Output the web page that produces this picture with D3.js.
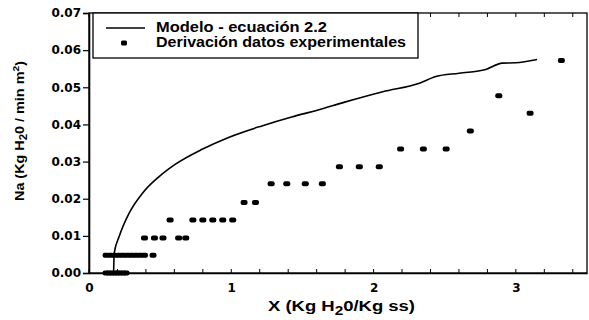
<!DOCTYPE html>
<html><head><meta charset="utf-8">
<script src="https://cdn.jsdelivr.net/npm/d3@7"></script>
<style>body{margin:0;background:#fff}svg{display:block}</style>
</head><body><svg id="c" width="589" height="320"></svg>
<script>
// Model curve (ecuación 2.2)
const modelX = [0.173,0.177,0.212,0.282,0.376,0.491,0.608,0.795,0.981,1.215,1.424,1.610,1.797,2.065,2.322,2.438,2.601,2.788,2.904,2.998,3.149];
const modelY = [0.0,0.0053,0.0098,0.0161,0.0215,0.0259,0.0293,0.0333,0.0365,0.0396,0.0420,0.0439,0.0460,0.0488,0.0511,0.0529,0.0538,0.0548,0.0565,0.0566,0.0575];
// Experimental data
const expX = [0.12,0.14,0.16,0.18,0.20,0.22,0.24,0.26,
  0.12,0.15,0.18,0.21,0.24,0.27,0.30,0.33,0.36,0.39,0.45,
  0.39,0.46,0.52,0.63,0.68,
  0.57,0.73,0.80,0.87,0.94,1.01,
  1.09,1.17,
  1.28,1.39,1.52,1.64,
  1.76,1.90,2.04,
  2.19,2.35,2.51,
  2.68,2.88,3.10,3.32];
const expY = [0,0,0,0,0,0,0,0,
  0.0048,0.0048,0.0048,0.0048,0.0048,0.0048,0.0048,0.0048,0.0048,0.0048,0.0048,
  0.0094,0.0094,0.0094,0.0094,0.0094,
  0.0143,0.0143,0.0143,0.0143,0.0143,0.0143,
  0.019,0.019,
  0.024,0.024,0.024,0.024,
  0.0286,0.0286,0.0286,
  0.0334,0.0334,0.0334,
  0.0382,0.0477,0.0430,0.0572];
const xTicks = [0,1,2,3];
const xMinor = d3.range(0,3.5001,0.2);
const yTicks = [0,0.01,0.02,0.03,0.04,0.05,0.06,0.07];
const legendLabels = ["Modelo - ecuación 2.2","Derivación datos experimentales"];
const legendLengths = [171,250];

const svg = d3.select("#c");
const L=89, T=13, R=587, B=273;
const x = d3.scaleLinear().domain([0,3.5]).range([L,R]);
const y = d3.scaleLinear().domain([0,0.07]).range([B,T]);
const font = "'DejaVu Sans', sans-serif";
const afont = "'Liberation Sans', Arial, sans-serif";

// frame
svg.append("rect").attr("x",L).attr("y",T).attr("width",R-L).attr("height",B-T)
  .attr("fill","none").attr("stroke","#000").attr("stroke-width",1.3);

// y axis
const yAxis = svg.append("g").attr("transform",`translate(${L},0)`)
  .call(d3.axisLeft(y).tickValues(yTicks).tickFormat(d3.format(".2f")).tickSize(6).tickPadding(2));
yAxis.select(".domain").attr("stroke-width",1.6);
yAxis.selectAll("text").attr("font-family",font).attr("font-weight","bold").attr("font-size",12).attr("fill","#000");
yAxis.selectAll("line").attr("stroke-width",1.2);

// x axis (ticks inward)
const xAxis = svg.append("g").attr("transform",`translate(0,${B})`)
  .call(d3.axisBottom(x).tickValues(xTicks).tickFormat(d3.format("d")).tickSize(0).tickPadding(10));
xAxis.select(".domain").attr("stroke-width",1.6);
xAxis.selectAll("text").attr("font-family",font).attr("font-weight","bold").attr("font-size",12).attr("fill","#000");
// minor ticks bottom and top
svg.append("g").selectAll("line").data(xMinor).join("line")
  .attr("x1",d=>x(d)).attr("x2",d=>x(d)).attr("y1",B).attr("y2",B-4).attr("stroke","#000").attr("stroke-width",1);
svg.append("g").selectAll("line").data(xMinor).join("line")
  .attr("x1",d=>x(d)).attr("x2",d=>x(d)).attr("y1",T).attr("y2",T+4).attr("stroke","#000").attr("stroke-width",1);

// model line
const line = d3.line().x(d=>x(d[0])).y(d=>y(d[1])).curve(d3.curveMonotoneX);
svg.append("path").datum(modelX.map((v,i)=>[v,modelY[i]]))
  .attr("d",line).attr("fill","none").attr("stroke","#000").attr("stroke-width",1.6);

// experimental points
svg.append("g").selectAll("rect").data(expX.map((v,i)=>[v,expY[i]])).join("rect")
  .attr("x",d=>x(d[0])-3.5).attr("y",d=>y(d[1])-2.5).attr("width",7).attr("height",5).attr("rx",2)
  .attr("fill","#000");

// legend
const lg = svg.append("g");
lg.append("rect").attr("x",93).attr("y",T).attr("width",325).attr("height",45)
  .attr("fill","#fff").attr("stroke","#000").attr("stroke-width",1.3);
lg.append("line").attr("x1",106).attr("x2",145).attr("y1",28).attr("y2",28).attr("stroke","#000").attr("stroke-width",1.6);
lg.append("rect").attr("x",121).attr("y",40.5).attr("width",6).attr("height",5).attr("rx",1.5).attr("fill","#000");
lg.selectAll("text").data(legendLabels).join("text")
  .attr("x",156).attr("y",(d,i)=>32+i*15)
  .attr("font-family",afont).attr("font-weight","bold").attr("font-size",14)
  .attr("textLength",(d,i)=>legendLengths[i]).attr("lengthAdjust","spacingAndGlyphs")
  .text(d=>d);

// x title
const xt = svg.append("text").attr("x",268).attr("y",311)
  .attr("font-family",afont).attr("font-weight","bold").attr("font-size",14.5)
  .attr("textLength",147).attr("lengthAdjust","spacingAndGlyphs");
xt.append("tspan").text("X (Kg H");
xt.append("tspan").attr("dy",4).attr("font-size",12).text("2");
xt.append("tspan").attr("dy",-4).text("0/Kg ss)");

// y title
const yt = svg.append("text").attr("transform","translate(24,131) rotate(-90)").attr("text-anchor","middle")
  .attr("font-family",afont).attr("font-weight","bold").attr("font-size",12.5)
  .attr("textLength",140).attr("lengthAdjust","spacingAndGlyphs");
yt.append("tspan").text("Na (Kg H");
yt.append("tspan").attr("dy",3).attr("font-size",10).text("2");
yt.append("tspan").attr("dy",-3).text("0 / min m");
yt.append("tspan").attr("dy",-5).attr("font-size",9).text("2");
yt.append("tspan").attr("dy",5).text(")");
</script></body></html>
